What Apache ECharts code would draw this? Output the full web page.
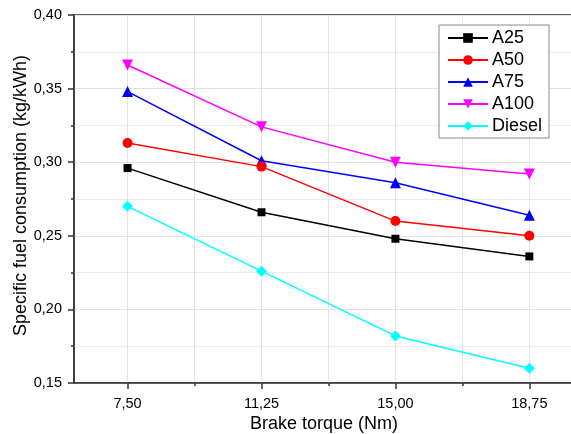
<!DOCTYPE html>
<html>
<head>
<meta charset="utf-8">
<script src="https://cdn.jsdelivr.net/npm/echarts@6/dist/echarts.min.js"></script>
<style>html,body{margin:0;padding:0;background:#fff;}#c{width:571px;height:434px;}</style>
</head>
<body>
<div id="c"></div>
<script>
const torque = [7.5, 11.25, 15.0, 18.75];
const minorTorque = [9.375, 13.125, 16.875];
const seriesNames = ['A25', 'A50', 'A75', 'A100', 'Diesel'];
const A25 = [0.296, 0.266, 0.248, 0.236];
const A50 = [0.313, 0.297, 0.260, 0.250];
const A75 = [0.348, 0.301, 0.286, 0.264];
const A100 = [0.366, 0.324, 0.300, 0.292];
const Diesel = [0.270, 0.226, 0.182, 0.160];
const values = [A25, A50, A75, A100, Diesel];
const colors = ['#000000', '#ff0000', '#0000ff', '#ff00ff', '#00ffff'];
const symbols = ['rect', 'circle', 'triangle', 'triangle', 'diamond'];
const symbolSizes = [8, 10, 11, 11, 11];
const rotations = [0, 0, 0, 180, 0];

const fmt = v => v.toFixed(2).replace('.', ',');
const font = 'Liberation Sans, Arial, sans-serif';

const chart = echarts.init(document.getElementById('c'), null, {renderer: 'canvas'});
chart.setOption({
  animation: false,
  backgroundColor: '#fff',
  grid: {left: 74, top: 15, width: 500, height: 368, outerBoundsMode: 'none', containLabel: false,
    show: true, borderColor: '#333', borderWidth: 1.5, backgroundColor: 'transparent'},
  legend: {
    left: 439, top: 25, orient: 'vertical',
    backgroundColor: '#fff', borderColor: '#8a8a8a', borderWidth: 1,
    padding: [4, 7, 3, 8],
    itemWidth: 40, itemHeight: 12, itemGap: 4,
    textStyle: {fontFamily: font, fontSize: 18, lineHeight: 18, color: '#000', padding: [0, 0, 0, -1]},
    data: seriesNames
  },
  xAxis: [{
    type: 'value', min: 6, max: 20, position: 'bottom',
    name: 'Brake torque (Nm)', nameLocation: 'middle', nameGap: 32, nameMoveOverlap: false,
    nameTextStyle: {fontFamily: font, fontSize: 18, color: '#000'},
    axisLine: {show: true, onZero: false, lineStyle: {color: '#333', width: 1.5}},
    axisTick: {show: true, length: 6, inside: false, customValues: torque, lineStyle: {color: '#333', width: 1.5}},
    axisLabel: {customValues: torque, formatter: fmt, fontFamily: font, fontSize: 14.5, color: '#000', margin: 13},
    splitLine: {show: true, lineStyle: {color: '#e3e3e3', width: 1}}
  }, {
    type: 'value', min: 6, max: 20, position: 'bottom',
    axisLine: {show: false},
    axisTick: {show: true, length: 3, customValues: minorTorque, lineStyle: {color: '#333', width: 1.5}},
    axisLabel: {show: false, customValues: minorTorque},
    splitLine: {show: true, lineStyle: {color: '#e3e3e3', width: 1}}
  }],
  yAxis: {
    type: 'value', min: 0.15, max: 0.40, interval: 0.05,
    name: 'Specific fuel consumption (kg/kWh)', nameLocation: 'middle', nameGap: 44, nameMoveOverlap: false,
    nameTextStyle: {fontFamily: font, fontSize: 18, color: '#000', padding: [0, 0, 0, 7]},
    axisLine: {show: true, onZero: false, lineStyle: {color: '#333', width: 1.5}},
    axisTick: {show: true, length: 6, lineStyle: {color: '#333', width: 1.5}},
    minorTick: {show: true, splitNumber: 2, length: 3, lineStyle: {color: '#333', width: 1.5}},
    axisLabel: {formatter: fmt, fontFamily: font, fontSize: 14.5, color: '#000', margin: 12},
    splitLine: {show: true, lineStyle: {color: '#e3e3e3', width: 1}},
    minorSplitLine: {show: true, lineStyle: {color: '#ececec', width: 1}}
  },
  series: seriesNames.map((n, i) => ({
    name: n, type: 'line', xAxisIndex: 0,
    data: torque.map((t, j) => [t, values[i][j]]),
    symbol: symbols[i], symbolSize: symbolSizes[i], symbolRotate: rotations[i],
    showAllSymbol: true,
    lineStyle: {color: colors[i], width: 1.5},
    itemStyle: {color: colors[i], borderWidth: 0},
    z: 10 - i
  }))
});
</script>
</body>
</html>
